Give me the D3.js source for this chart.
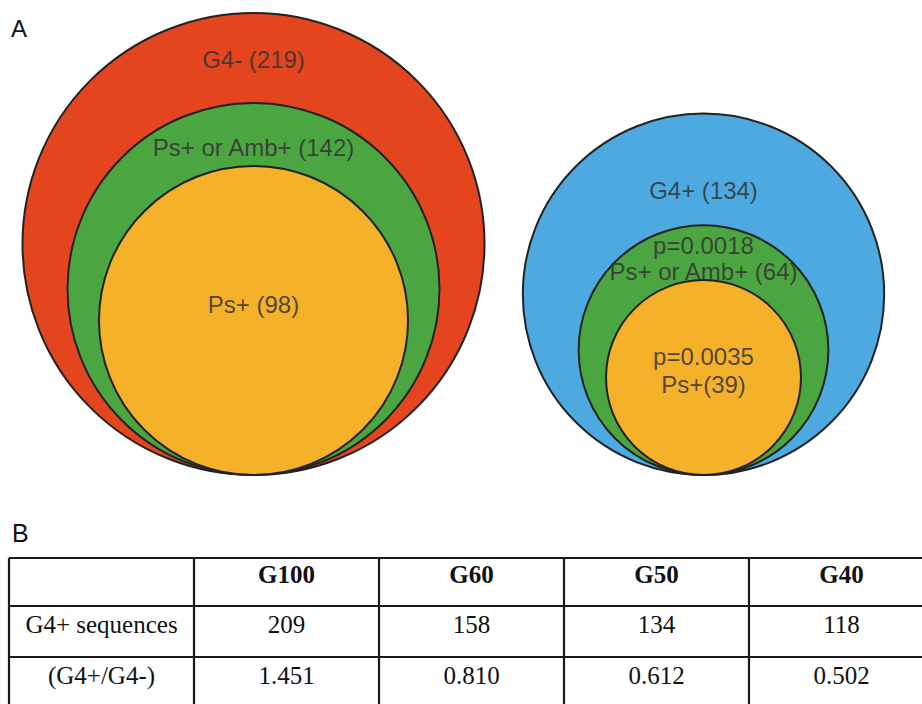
<!DOCTYPE html>
<html>
<head>
<meta charset="utf-8">
<script src="https://cdn.jsdelivr.net/npm/d3@7"></script>
<style>
  html, body { margin: 0; padding: 0; background: #fff; }
  svg { display: block; }
</style>
</head>
<body>
<svg id="fig" width="922" height="704"></svg>
<script>
// Panel A: nested sets, sizes are counts of sequences
const g4NegSets = [
  { label: ["G4- (219)"], count: 219, color: "#E3451F" },
  { label: ["Ps+ or Amb+ (142)"], count: 142, color: "#4BA641" },
  { label: ["Ps+ (98)"], count: 98, color: "#F5B12A" }
];
const g4PosSets = [
  { label: ["G4+ (134)"], count: 134, color: "#4DAAE1" },
  { label: ["p=0.0018", "Ps+ or Amb+ (64)"], count: 64, color: "#4BA641" },
  { label: ["p=0.0035", "Ps+(39)"], count: 39, color: "#F5B12A" }
];

// Panel B: table
const thresholds = ["G100", "G60", "G50", "G40"];
const g4PosCounts = [209, 158, 134, 118];
const g4Ratios = [1.451, 0.810, 0.612, 0.502];
const rowLabels = ["G4+ sequences", "(G4+/G4-)"];

const svg = d3.select("#fig");

// area-proportional radius
const rScale = d3.scaleSqrt().domain([0, 219]).range([0, 231]);

// label baselines measured from the top of each circle (px)
const labelOffsets = {
  left: [[55], [53], [147]],
  right: [[85], [29, 55], [85, 113]]
};

function drawNested(sets, cx, bottomY, offsets) {
  const g = svg.append("g");
  sets.forEach(d => {
    const r = rScale(d.count);
    g.append("circle")
      .attr("cx", cx).attr("cy", bottomY - r).attr("r", r)
      .attr("fill", d.color)
      .attr("stroke", "#222").attr("stroke-width", 2);
  });
  sets.forEach((d, i) => {
    const top = bottomY - 2 * rScale(d.count);
    d.label.forEach((line, j) => {
      g.append("text")
        .attr("x", cx).attr("y", top + offsets[i][j])
        .attr("text-anchor", "middle")
        .attr("font-family", "Liberation Sans, Arial, sans-serif")
        .attr("font-size", 24)
        .attr("fill", "#333").attr("fill-opacity", 0.85)
        .text(line);
    });
  });
}

drawNested(g4NegSets, 253.5, 475, labelOffsets.left);
drawNested(g4PosSets, 703.5, 475, labelOffsets.right);

// panel letters
svg.append("text").attr("x", 11).attr("y", 37)
  .attr("font-family", "Liberation Sans, Arial, sans-serif")
  .attr("font-size", 24).attr("fill", "#111").text("A");
svg.append("text").attr("x", 12).attr("y", 542)
  .attr("font-family", "Liberation Sans, Arial, sans-serif")
  .attr("font-size", 25).attr("fill", "#111").text("B");

// table layout
const cols = ["", ...thresholds];
const xBand = d3.scaleBand().domain(d3.range(cols.length)).range([9, 934]);
const rowEdges = [558, 606, 657, 709];
const rows = [
  cols,
  [rowLabels[0], ...g4PosCounts.map(String)],
  [rowLabels[1], ...g4Ratios.map(d3.format(".3f"))]
];
const baselineOffset = [25, 27, 27];

const tbl = svg.append("g");
// horizontal rules
rowEdges.forEach(y => {
  tbl.append("line")
    .attr("x1", xBand.range()[0]).attr("x2", xBand.range()[1])
    .attr("y1", y).attr("y2", y)
    .attr("stroke", "#1a1a1a").attr("stroke-width", 2.2);
});
// vertical rules
d3.range(cols.length + 1).forEach(i => {
  const x = i < cols.length ? xBand(i) : xBand.range()[1];
  tbl.append("line")
    .attr("x1", x).attr("x2", x)
    .attr("y1", rowEdges[0]).attr("y2", rowEdges[rowEdges.length - 1])
    .attr("stroke", "#1a1a1a").attr("stroke-width", 2.2);
});
// cell text
rows.forEach((row, ri) => {
  row.forEach((cell, ci) => {
    tbl.append("text")
      .attr("x", xBand(ci) + xBand.bandwidth() / 2)
      .attr("y", rowEdges[ri] + baselineOffset[ri])
      .attr("text-anchor", "middle")
      .attr("font-family", "Liberation Serif, Times New Roman, serif")
      .attr("font-size", 25)
      .attr("font-weight", ri === 0 ? "bold" : "normal")
      .attr("fill", "#111")
      .text(cell);
  });
});
</script>
</body>
</html>
